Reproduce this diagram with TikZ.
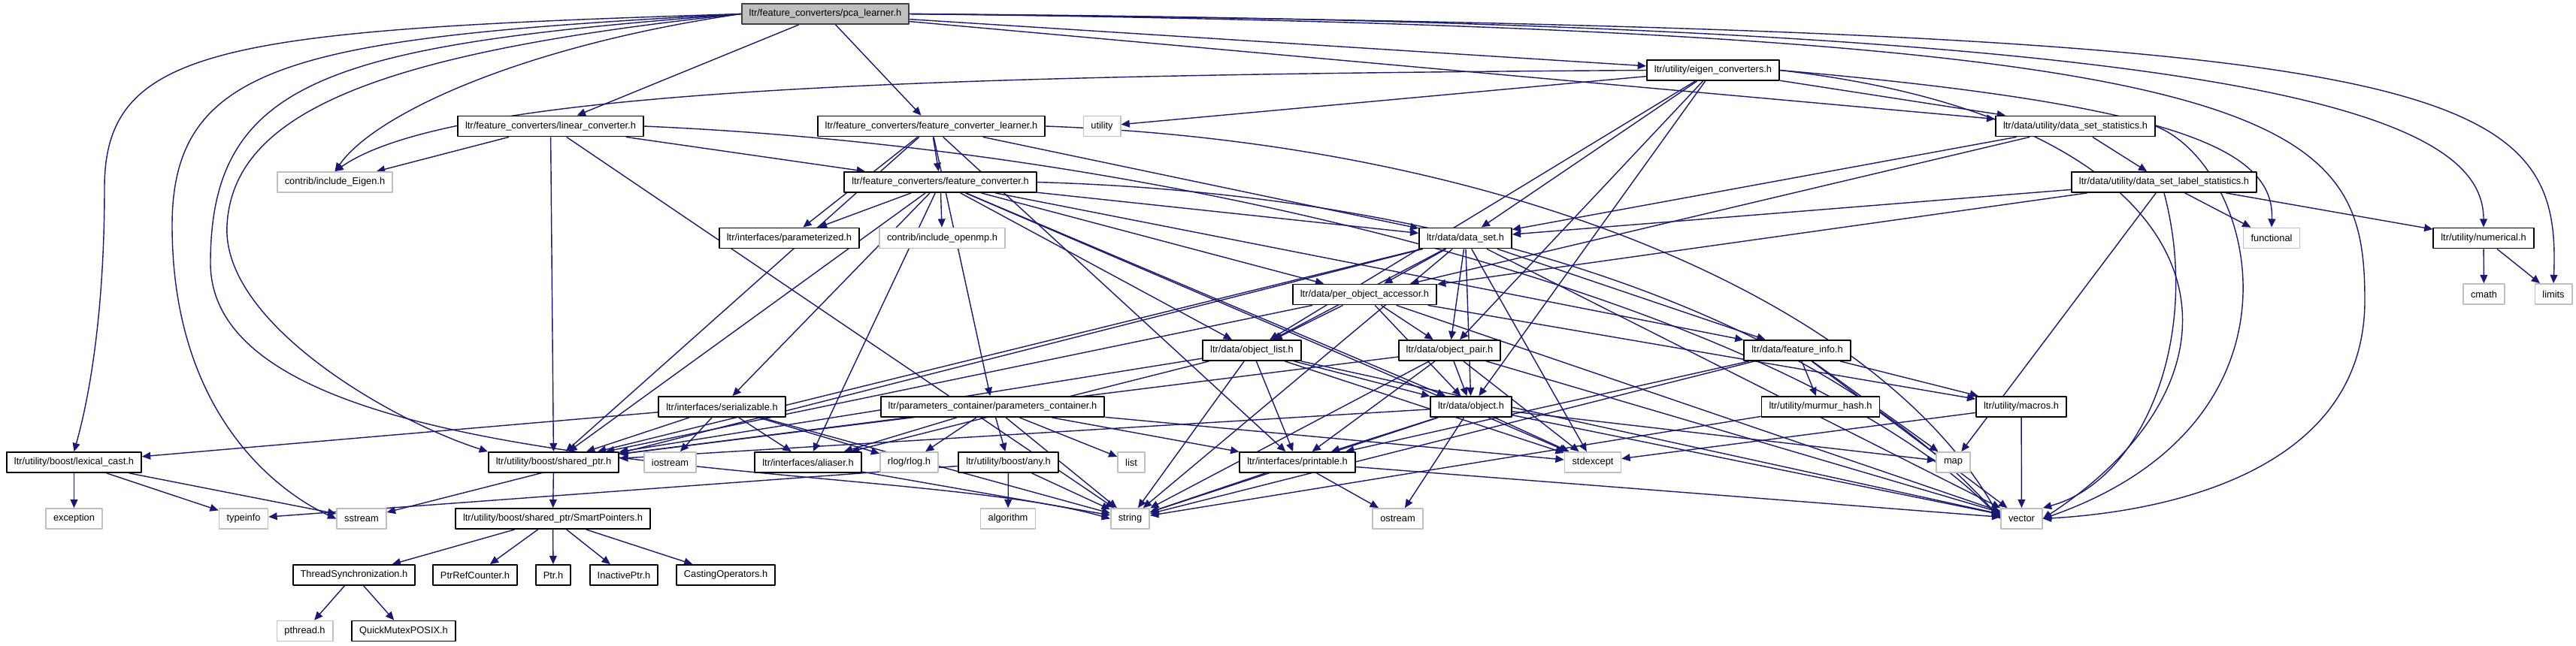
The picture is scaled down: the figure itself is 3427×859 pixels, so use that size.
\documentclass[tikz,border=0pt]{standalone}
\usepackage{fontspec}
\setmainfont{Liberation Sans}
\usetikzlibrary{arrows.meta,backgrounds}

\begin{document}
\begin{tikzpicture}[
    x=0.01cm,
    y=-0.01cm,
    line cap=round,
    line join=round,
    every node/.style={font=\fontsize{3.65}{4.4}\selectfont},
]
\definecolor{dxEdge}{HTML}{191970}
\definecolor{dxGrey}{HTML}{BFBFBF}
\definecolor{dxFrame}{HTML}{404040}

\tikzset{
    hfile/.style={draw=black,line width=0.5pt,fill=white,minimum height=0.27cm,inner xsep=0.1cm,inner ysep=0pt},
    sysfile/.style={hfile,draw=dxGrey},
    rootfile/.style={hfile,draw=dxFrame,fill=dxGrey},
    incl/.style={draw=dxEdge,line width=0.4pt,-{Triangle[length=3.2pt,width=2.8pt]}},
}

\useasboundingbox (0,0) rectangle (3427,859);

% rows of the include graph
\node[rootfile] (pca) at (1098,18.5) {ltr/feature\_converters/pca\_learner.h};
\node[hfile] (eigen) at (2279,93.5) {ltr/utility/eigen\_converters.h};

\node[hfile] (linear) at (732.5,168) {ltr/feature\_converters/linear\_converter.h};
\node[hfile] (fcl) at (1239,168) {ltr/feature\_converters/feature\_converter\_learner.h};
\node[sysfile] (utility) at (1466,168) {utility};
\node[hfile] (dss) at (2761,168) {ltr/data/utility/data\_set\_statistics.h};

\node[sysfile] (eigenh) at (445.5,242.5) {contrib/include\_Eigen.h};
\node[hfile] (fc) at (1251,242.5) {ltr/feature\_converters/feature\_converter.h};
\node[hfile] (dsls) at (2879,242.5) {ltr/data/utility/data\_set\_label\_statistics.h};

\node[hfile] (param) at (1050,317) {ltr/interfaces/parameterized.h};
\node[sysfile] (openmp) at (1253.5,317) {contrib/include\_openmp.h};
\node[hfile] (dataset) at (1949.5,317) {ltr/data/data\_set.h};
\node[sysfile] (functional) at (3022,317) {functional};
\node[hfile] (numerical) at (3304,317) {ltr/utility/numerical.h};

\node[hfile] (poa) at (1815.5,392) {ltr/data/per\_object\_accessor.h};
\node[sysfile] (cmath) at (3304.5,391.5) {cmath};
\node[sysfile] (limits) at (3397,391.5) {limits};

\node[hfile] (olist) at (1665.5,466.5) {ltr/data/object\_list.h};
\node[hfile] (opair) at (1928.5,466.5) {ltr/data/object\_pair.h};
\node[hfile] (finfo) at (2391,466.5) {ltr/data/feature\_info.h};

\node[hfile] (serial) at (960.5,541.5) {ltr/interfaces/serializable.h};
\node[hfile] (pcont) at (1320.5,541.5) {ltr/parameters\_container/parameters\_container.h};
\node[hfile] (object) at (1957,541.5) {ltr/data/object.h};
\node[hfile] (murmur) at (2422,541.5) {ltr/utility/murmur\_hash.h};
\node[hfile] (macros) at (2689,541.5) {ltr/utility/macros.h};

\node[hfile] (lexcast) at (98.5,615.5) {ltr/utility/boost/lexical\_cast.h};
\node[hfile] (sptr) at (736.5,615.5) {ltr/utility/boost/shared\_ptr.h};
\node[sysfile] (iostream) at (891.5,615.5) {iostream};
\node[hfile] (aliaser) at (1075,615.5) {ltr/interfaces/aliaser.h};
\node[sysfile] (rlog) at (1209.5,615.5) {rlog/rlog.h};
\node[hfile] (any) at (1341.5,615.5) {ltr/utility/boost/any.h};
\node[sysfile] (list) at (1505,615.5) {list};
\node[hfile] (printable) at (1726,615.5) {ltr/interfaces/printable.h};
\node[sysfile] (stdexcept) at (2119,615.5) {stdexcept};
\node[sysfile] (map) at (2598.5,615.5) {map};

\node[sysfile] (exception) at (98.5,690.5) {exception};
\node[sysfile] (typeinfo) at (324,690.5) {typeinfo};
\node[sysfile] (sstream) at (481,690.5) {sstream};
\node[hfile] (smartptr) at (735.5,690.5) {ltr/utility/boost/shared\_ptr/SmartPointers.h};
\node[sysfile] (algorithm) at (1341,690.5) {algorithm};
\node[sysfile] (string) at (1503.5,690.5) {string};
\node[sysfile] (ostream) at (1859.5,690.5) {ostream};
\node[sysfile] (vector) at (2689.5,690.5) {vector};

\node[hfile] (threadsync) at (471,765.5) {ThreadSynchronization.h};
\node[hfile] (ptrref) at (632,765.5) {PtrRefCounter.h};
\node[hfile] (ptr) at (736,765.5) {Ptr.h};
\node[hfile] (inactive) at (830,765.5) {InactivePtr.h};
\node[hfile] (casting) at (965.5,765.5) {CastingOperators.h};

\node[sysfile] (pthread) at (405.5,840) {pthread.h};
\node[hfile] (quickmutex) at (537,840) {QuickMutexPOSIX.h};

\begin{pgfonlayer}{background}
% plain includes
\foreach \a/\b in {pca/linear, pca/fcl, pca/eigen, pca/dss,
    eigen/utility, eigen/dss, eigen/dataset, eigen/olist, eigen/opair, eigen/object,
    linear/eigenh, linear/fc, linear/sptr, linear/string,
    fcl/fc, fcl/param, fcl/pcont, fcl/dataset, fcl/printable, fcl/sptr,
    fc/param, fc/openmp, fc/serial, fc/sptr, fc/aliaser, fc/dataset, fc/poa, fc/olist, fc/object, fc/finfo, fc/stdexcept,
    dss/dsls, dss/dataset, dss/poa,
    dsls/dataset, dsls/poa, dsls/functional, dsls/numerical, dsls/map,
    dataset/poa, dataset/olist, dataset/opair, dataset/object, dataset/finfo, dataset/sstream, dataset/string, dataset/stdexcept, dataset/sptr, dataset/vector,
    poa/olist, poa/opair, poa/object, poa/macros, poa/sptr, poa/vector,
    olist/object, olist/sptr, olist/printable, olist/string, olist/stdexcept, olist/aliaser, olist/vector,
    opair/object, opair/sptr, opair/printable, opair/string, opair/stdexcept, opair/vector,
    finfo/murmur, finfo/macros, finfo/map, finfo/string, finfo/printable, finfo/vector,
    object/printable, object/sptr, object/string, object/stdexcept, object/ostream, object/map, object/vector,
    murmur/string, macros/vector, macros/stdexcept,
    numerical/cmath, numerical/limits,
    serial/lexcast, serial/iostream, serial/sptr, serial/aliaser, serial/rlog, serial/string,
    pcont/sptr, pcont/aliaser, pcont/rlog, pcont/any, pcont/list, pcont/printable, pcont/string, pcont/stdexcept,
    aliaser/string, any/algorithm, any/string, any/typeinfo, printable/ostream, printable/string, printable/vector,
    lexcast/exception, lexcast/typeinfo, lexcast/sstream,
    sptr/smartptr, smartptr/threadsync, smartptr/ptrref, smartptr/ptr, smartptr/inactive, smartptr/casting,
    threadsync/pthread, threadsync/quickmutex} {
    \draw[incl] (\a) -- (\b);
}

% long bends round the outside
\draw[incl] (pca.west) .. controls (300,40) and (139,60) .. (139,250) .. controls (139,450) and (110,560) .. (lexcast.north);
\draw[incl] (pca.west) .. controls (400,50) and (229,80) .. (229,300) .. controls (229,560) and (380,660) .. (sstream.west);
\draw[incl] (pca.west) .. controls (450,60) and (280,100) .. (280,350) .. controls (280,650) and (1200,610) .. (string.west);
\draw[incl] (pca.west) .. controls (500,70) and (310,150) .. (302,300) .. controls (295,430) and (520,560) .. (sptr.north west);
\draw[incl] (pca.west) .. controls (700,60) and (500,150) .. (eigenh.north);
\draw[incl] (eigen.west) .. controls (1200,100) and (600,120) .. (eigenh.north);
\draw[incl] (pca.east) .. controls (3000,30) and (3304,150) .. (numerical.north);
\draw[incl] (pca.east) .. controls (3250,40) and (3409,100) .. (limits.north);
\draw[incl] (pca.east) .. controls (3050,40) and (3146,150) .. (3146,400) .. controls (3146,620) and (2900,680) .. (vector.east);
\draw[incl] (eigen.east) .. controls (2900,140) and (3026,200) .. (functional.north);
\draw[incl] (eigen.east) .. controls (2950,160) and (3038,480) .. (vector.east);
\draw[incl] (dss.east) .. controls (3000,220) and (3091,560) .. (vector.east);
\draw[incl] (dsls.south) .. controls (2930,450) and (2850,640) .. (vector.north east);
\draw[incl] (linear.east) .. controls (1600,200) and (2400,420) .. (vector.west);
\draw[incl] (fcl.east) .. controls (2000,190) and (2500,400) .. (vector.west);
\draw[incl] (fc.east) .. controls (2000,260) and (2450,450) .. (vector.west);
\end{pgfonlayer}
\end{tikzpicture}
\end{document}
